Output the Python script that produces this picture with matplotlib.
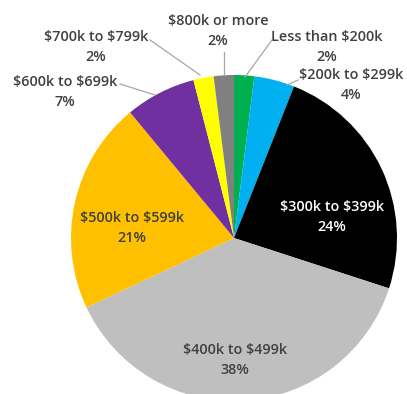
import numpy as np
import matplotlib
matplotlib.use("Agg")
from matplotlib import pyplot as plt

plt.rcParams["text.parse_math"] = False

# price bands, clockwise from 12 o'clock
labels = ["Less than $200k", "$200k to $299k", "$300k to $399k", "$400k to $499k",
          "$500k to $599k", "$600k to $699k", "$700k to $799k", "$800k or more"]
shares = [2, 4, 24, 38, 21, 7, 2, 2]
colors = ["#00B050", "#00B0F0", "#000000", "#BFBFBF",
          "#FFC000", "#7030A0", "#FFFF00", "#808080"]

W, H = 407, 394
cx, cy, R = 234, 238, 163   # pie centre / radius in pixels


def px(x, y):
    # pixel (from top-left) -> data coords (pie radius = 1)
    return (x - cx) / R, (cy - y) / R


fig = plt.figure(figsize=(W / 100, H / 100), dpi=100)
ax = fig.add_axes([0, 0, 1, 1])
ax.pie(shares, colors=colors, startangle=90, counterclock=False,
       wedgeprops=dict(linewidth=0))
ax.set_xlim(px(0, 0)[0], px(W, 0)[0])
ax.set_ylim(px(0, H)[1], px(0, 0)[1])
ax.set_aspect("equal")
ax.axis("off")

txt = "#404040"
font = dict(family="Open Sans", fontsize=10.4, ha="center", va="center",
            fontweight="semibold", linespacing=1.55)

# labels inside the big slices
inside = {2: (332, 217, "white"), 3: (235, 360, txt), 4: (132, 228, txt)}
# labels outside with leader lines: text centre, line start, line end
outside = {
    0: ((327, 47), (272, 40), (245, 77)),
    1: ((351, 85), (298, 80), (287, 85)),
    5: ((65, 92), (120, 84), (155, 95)),
    6: ((96, 47), (150, 40), (200, 75)),
    7: ((218, 31), (224, 52), (224, 75)),
}

for i, (lab, s) in enumerate(zip(labels, shares)):
    s_txt = f"{lab}\n{s}%"
    if i in inside:
        x, y, c = inside[i]
        ax.text(*px(x, y), s_txt, color=c, **font)
    else:
        (tx, ty), p0, p1 = outside[i]
        ax.text(*px(tx, ty), s_txt, color=txt, **font)
        xs, ys = zip(px(*p0), px(*p1))
        ax.plot(xs, ys, color="#A6A6A6", lw=0.9)

fig.savefig("out.png", dpi=100)
